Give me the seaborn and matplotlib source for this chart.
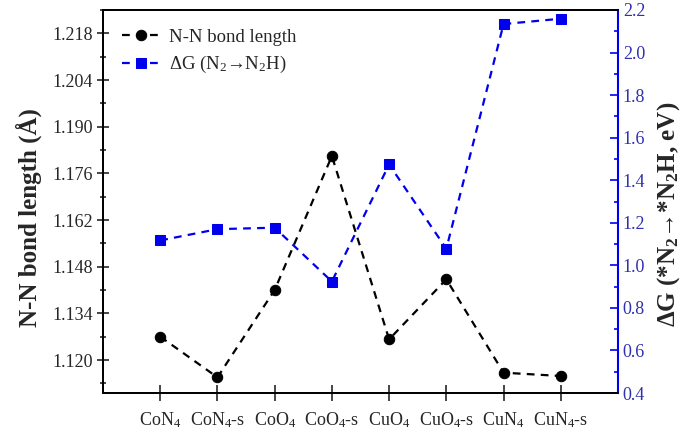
import numpy as np
import pandas as pd
import matplotlib
matplotlib.use("Agg")
import matplotlib.pyplot as plt
from matplotlib.ticker import MultipleLocator, FixedLocator
import seaborn as sns

categories = ["CoN4", "CoN4-s", "CoO4", "CoO4-s", "CuO4", "CuO4-s", "CuN4", "CuN4-s"]
tick_labels = [r"CoN$\mathregular{_4}$", r"CoN$\mathregular{_4}$-s", r"CoO$\mathregular{_4}$",
               r"CoO$\mathregular{_4}$-s", r"CuO$\mathregular{_4}$", r"CuO$\mathregular{_4}$-s",
               r"CuN$\mathregular{_4}$", r"CuN$\mathregular{_4}$-s"]
bond_length = [1.1270, 1.1148, 1.1410, 1.1812, 1.1262, 1.1442, 1.1162, 1.1152]
delta_g = [1.117, 1.170, 1.177, 0.924, 1.474, 1.078, 2.134, 2.159]
left_ticks = [1.120, 1.134, 1.148, 1.162, 1.176, 1.190, 1.204, 1.218]
right_ticks = [0.4, 0.6, 0.8, 1.0, 1.2, 1.4, 1.6, 1.8, 2.0, 2.2]

sns.set_style("ticks")
plt.rcParams["font.family"] = ["Liberation Serif", "DejaVu Serif"]
plt.rcParams["mathtext.fontset"] = "custom"
plt.rcParams["mathtext.rm"] = "Liberation Serif"

df = pd.DataFrame({"cat": categories, "x": np.arange(len(categories)),
                   "bond": bond_length, "dg": delta_g})

fig = plt.figure(figsize=(6.87, 4.36), dpi=100)
ax = fig.add_axes([103/687, 1-393/436, (618-103)/687, (393-10)/436])
ax2 = ax.twinx()

blue = "#0000ee"
sns.lineplot(data=df, x="x", y="bond", ax=ax, color="black", marker="o", markersize=7.5,
             markeredgecolor="black", linewidth=1.6, sort=False,
             label="N-N bond length", legend=False)
ax.lines[0].set_dashes((3.5, 2.8))
sns.lineplot(data=df, x="x", y="dg", ax=ax2, color=blue, marker="s", markersize=7,
             markeredgecolor=blue, linewidth=1.6, sort=False,
             label=r"ΔG (N$\mathregular{_2}$→N$\mathregular{_2}$H)", legend=False)
ax2.lines[0].set_dashes((3.5, 2.8))

ax.set_xlim(-1, 8)
ax.set_ylim(1.1101, 1.2250)
ax2.set_ylim(0.4, 2.2)

ax.set_xticks(np.arange(len(categories)))
ax.set_xticklabels(tick_labels, fontsize=13)
ax.yaxis.set_major_locator(FixedLocator(left_ticks))
ax.yaxis.set_minor_locator(MultipleLocator(0.007))
ax.set_yticklabels([f"{t:.3f}" for t in left_ticks], fontsize=13)
ax2.yaxis.set_major_locator(FixedLocator(right_ticks))
ax2.yaxis.set_minor_locator(MultipleLocator(0.1))
ax2.set_yticklabels([f"{t:.1f}" for t in right_ticks], fontsize=13, color="#3030b0")

ax.set_xlabel("")
ax.set_ylabel("N-N bond length (Å)", fontsize=18, fontweight="bold")
ax2.set_ylabel(r"ΔG (*N$\mathregular{_2}$→*N$\mathregular{_2}$H, eV)", fontsize=18,
               fontweight="bold")
ax.yaxis.set_label_coords(-0.118, 0.457)
ax2.yaxis.set_label_coords(1.072, 0.467)

for a in (ax, ax2):
    for s in a.spines.values():
        s.set_linewidth(1.3)
        s.set_color("black")
ax2.spines["right"].set_color(blue)
ax2.spines["right"].set_linewidth(1.5)

ax.tick_params(axis="x", direction="inout", length=11, width=1.2, pad=7, top=False)
ax.tick_params(axis="y", which="major", direction="inout", length=8, width=1.2)
ax.tick_params(axis="y", which="minor", direction="inout", length=5, width=1.2)
ax2.tick_params(axis="y", which="major", direction="in", length=6, width=1.2, color=blue)
ax2.tick_params(axis="y", which="minor", direction="in", length=3, width=1.2, color=blue)

h1, l1 = ax.get_legend_handles_labels()
h2, l2 = ax2.get_legend_handles_labels()
ax2.legend(h1 + h2, l1 + l2, loc="upper left", frameon=False, fontsize=13.5,
           handlelength=2.0, handletextpad=0.5, borderaxespad=0.6, labelspacing=0.45)

fig.savefig("out.png", dpi=100)
